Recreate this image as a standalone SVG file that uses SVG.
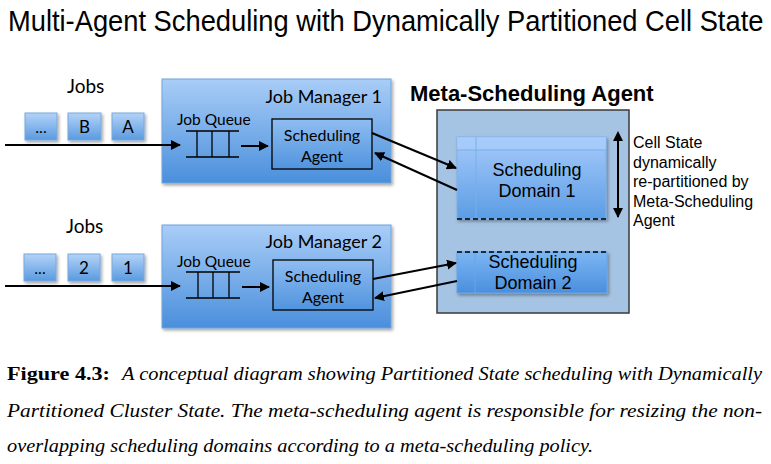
<svg xmlns="http://www.w3.org/2000/svg" width="771" height="464" viewBox="0 0 771 464">
<defs>
  <linearGradient id="gJM" x1="0" y1="0" x2="0" y2="1">
    <stop offset="0" stop-color="#a9cdf7"/>
    <stop offset="1" stop-color="#4a8fdc"/>
  </linearGradient>
  <linearGradient id="gAg" x1="0" y1="0" x2="0" y2="1">
    <stop offset="0" stop-color="#8fbdf1"/>
    <stop offset="1" stop-color="#5094de"/>
  </linearGradient>
  <linearGradient id="gJob" x1="0" y1="0" x2="0" y2="1">
    <stop offset="0" stop-color="#b3d3f8"/>
    <stop offset="1" stop-color="#5a9ae0"/>
  </linearGradient>
  <linearGradient id="gD1" x1="0" y1="0" x2="0" y2="1">
    <stop offset="0" stop-color="#a6cafb"/>
    <stop offset="1" stop-color="#5b9de4"/>
  </linearGradient>
  <linearGradient id="gD2" x1="0" y1="0" x2="0" y2="1">
    <stop offset="0" stop-color="#7cb6f3"/>
    <stop offset="1" stop-color="#4a8fde"/>
  </linearGradient>
  <filter id="sh" x="-10%" y="-10%" width="125%" height="130%">
    <feDropShadow dx="1.5" dy="2" stdDeviation="1.5" flood-color="#000" flood-opacity="0.35"/>
  </filter>
  <marker id="ah" viewBox="0 0 10 10" refX="9" refY="5" markerWidth="5" markerHeight="5" orient="auto" markerUnits="strokeWidth">
    <path d="M0,0 L10,5 L0,10 z" fill="#000"/>
  </marker>
  <marker id="ahs" viewBox="0 0 10 10" refX="1" refY="5" markerWidth="5" markerHeight="5" orient="auto-start-reverse" markerUnits="strokeWidth">
    <path d="M0,0 L10,5 L0,10 z" fill="#000"/>
  </marker>
</defs>
<style>
  .cal { font-family: Lato, "Liberation Sans", sans-serif; fill: #000; }
  .hel { font-family: "Liberation Sans", Arial, sans-serif; fill: #000; }
  .cap { font-family: "Liberation Serif", serif; fill: #000; font-size: 18px; }
  .jm { fill: url(#gJM); stroke: #6fa3dc; stroke-width: 1; filter: url(#sh); }
  .ag { fill: url(#gAg); stroke: #000; stroke-width: 1.3; }
  .job { fill: url(#gJob); stroke: #79a8dc; stroke-width: 1; filter: url(#sh); }
  .q { stroke: #000; stroke-width: 1.3; fill: none; }
  .arr { stroke: #000; stroke-width: 2; fill: none; marker-end: url(#ah); }
</style>

<text class="hel" transform="translate(8,31) scale(0.91,1)" x="0" y="0" font-size="30">Multi-Agent Scheduling with Dynamically Partitioned Cell State</text>

<g id="jobs1">
  <text class="cal" x="67" y="93" font-size="19">Jobs</text>
  <rect class="job" x="25" y="113" width="32" height="27"/>
  <text class="cal" x="41" y="133" font-size="16" text-anchor="middle">...</text>
  <rect class="job" x="68" y="113" width="33" height="27"/>
  <text class="cal" x="84.5" y="133" font-size="17" text-anchor="middle">B</text>
  <rect class="job" x="112" y="113" width="32" height="27"/>
  <text class="cal" x="128" y="133" font-size="17" text-anchor="middle">A</text>
</g>

<g id="jobs2">
  <text class="cal" x="66" y="233" font-size="19">Jobs</text>
  <rect class="job" x="24" y="254" width="32" height="27"/>
  <text class="cal" x="40" y="274" font-size="16" text-anchor="middle">...</text>
  <rect class="job" x="68" y="254" width="32" height="27"/>
  <text class="cal" x="84" y="274" font-size="17" text-anchor="middle">2</text>
  <rect class="job" x="112" y="254" width="32" height="27"/>
  <text class="cal" x="128" y="274" font-size="17" text-anchor="middle">1</text>
</g>

<g id="jm1">
  <rect class="jm" x="162" y="79" width="229" height="104"/>
  <text class="cal" x="382" y="103" font-size="18" text-anchor="end">Job Manager 1</text>
  <text class="cal" x="177" y="125" font-size="15.5">Job Queue</text>
  <path class="q" d="M186,131 H239 M186,157 H239 M197,131 V157 M212,131 V157 M229,131 V157"/>
  <rect class="ag" x="272" y="119" width="100" height="50"/>
  <text class="cal" x="322" y="141" font-size="16" text-anchor="middle">Scheduling</text>
  <text class="cal" x="322" y="162" font-size="16" text-anchor="middle">Agent</text>
</g>

<g id="jm2">
  <rect class="jm" x="162" y="225" width="229" height="103"/>
  <text class="cal" x="382" y="248" font-size="18" text-anchor="end">Job Manager 2</text>
  <text class="cal" x="177" y="267" font-size="15.5">Job Queue</text>
  <path class="q" d="M186,272 H240 M186,298 H240 M198,272 V298 M213,272 V298 M229,272 V298"/>
  <rect class="ag" x="273" y="260" width="100" height="50"/>
  <text class="cal" x="323" y="282" font-size="16" text-anchor="middle">Scheduling</text>
  <text class="cal" x="323" y="303" font-size="16" text-anchor="middle">Agent</text>
</g>

<g id="meta">
  <text class="hel" x="410" y="101" font-size="22" font-weight="bold">Meta-Scheduling Agent</text>
  <rect x="437" y="110" width="192" height="203" fill="#a5c3e2" stroke="#3a3a3a" stroke-width="1.5"/>
</g>

<g id="domain1">
  <rect x="457" y="137" width="149" height="82" fill="url(#gD1)" stroke="#7fb0ea" stroke-width="1" filter="url(#sh)"/>
  <rect x="457" y="137" width="149" height="13" fill="#a8cdfc" opacity="0.7"/>
  <path d="M457,150 H606 M476,137 V219" stroke="#7aaee8" stroke-width="1" fill="none"/>
  <path d="M457,219 H606" stroke="#000" stroke-width="1.3" stroke-dasharray="5,3" fill="none"/>
  <text class="hel" x="537" y="176" font-size="18" text-anchor="middle">Scheduling</text>
  <text class="hel" x="537" y="197" font-size="18" text-anchor="middle">Domain 1</text>
</g>

<g id="domain2">
  <rect x="457" y="252" width="150" height="41" fill="url(#gD2)" stroke="#6aa4e6" stroke-width="1" filter="url(#sh)"/>
  <path d="M475,252 V293" stroke="#6aa4e6" stroke-width="1" fill="none"/>
  <path d="M457,252 H607" stroke="#000" stroke-width="1.3" stroke-dasharray="5,3" fill="none"/>
  <text class="hel" x="533" y="268" font-size="18" text-anchor="middle">Scheduling</text>
  <text class="hel" x="533" y="289" font-size="18" text-anchor="middle">Domain 2</text>
</g>

<g id="note">
  <text class="hel" font-size="16">
    <tspan x="633" y="148">Cell State</tspan>
    <tspan x="633" y="167.5">dynamically</tspan>
    <tspan x="633" y="187">re-partitioned by</tspan>
    <tspan x="633" y="206.5">Meta-Scheduling</tspan>
    <tspan x="633" y="226">Agent</tspan>
  </text>
</g>

<g id="connectors">
  <line class="arr" x1="5" y1="145" x2="180" y2="145"/>
  <line class="arr" x1="241" y1="146" x2="268" y2="146"/>
  <line class="arr" x1="5" y1="286" x2="180" y2="286"/>
  <line class="arr" x1="242" y1="287" x2="269" y2="287"/>
  <line class="arr" x1="372" y1="133" x2="456" y2="168"/>
  <line class="arr" x1="457" y1="190" x2="375" y2="153"/>
  <line class="arr" x1="373" y1="279" x2="456" y2="263"/>
  <line class="arr" x1="457" y1="281" x2="375" y2="298"/>
  <line x1="618" y1="140" x2="618" y2="217" stroke="#000" stroke-width="2" marker-end="url(#ah)" marker-start="url(#ahs)"/>
</g>

<g id="caption">
  <text class="cap" x="7" y="380" font-weight="bold" textLength="103" lengthAdjust="spacingAndGlyphs">Figure 4.3:</text>
  <text class="cap" x="122" y="380" font-style="italic" textLength="640" lengthAdjust="spacingAndGlyphs">A conceptual diagram showing Partitioned State scheduling with Dynamically</text>
  <text class="cap" x="7" y="417" font-style="italic" textLength="755" lengthAdjust="spacingAndGlyphs">Partitioned Cluster State.  The meta-scheduling agent is responsible for resizing the non-</text>
  <text class="cap" x="7" y="452" font-style="italic" textLength="586" lengthAdjust="spacingAndGlyphs">overlapping scheduling domains according to a meta-scheduling policy.</text>
</g>
</svg>
